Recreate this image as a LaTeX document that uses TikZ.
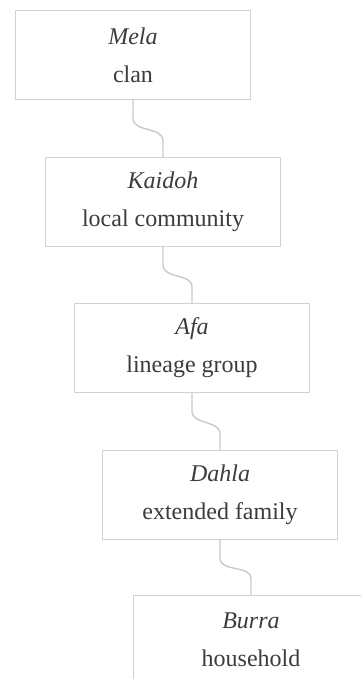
\documentclass[tikz,border=0pt]{standalone}
\usepackage{fontspec}
\setmainfont{Liberation Serif}
\begin{document}
\begin{tikzpicture}[x=1pt,y=-1pt,
  box/.style={draw=boxgray, line width=1pt, anchor=north west, minimum width=235pt, minimum height=89pt,
    align=center, text=textgray, font=\fontsize{24}{38}\selectfont, inner sep=0pt},
  link/.style={draw=linkgray, line width=1.4pt}]
\definecolor{boxgray}{HTML}{D2D2D2}
\definecolor{linkgray}{HTML}{CACACA}
\definecolor{textgray}{HTML}{3C3C3C}
\clip (0,0) rectangle (361,679);
\fill[white] (0,0) rectangle (361,679);
\node[box] (mela) at (15,10) {\textit{Mela}\\clan};
\node[box] (kaidoh) at (45,157) {\textit{Kaidoh}\\local community};
\node[box] (afa) at (74,303) {\textit{Afa}\\lineage group};
\node[box] (dahla) at (102,450) {\textit{Dahla}\\extended family};
\node[box] (burra) at (133,595) {\textit{Burra}\\household};
\foreach \a/\b in {mela/kaidoh, kaidoh/afa, afa/dahla, dahla/burra}{
  \draw[link] (\a.south) -- ([yshift=-18pt]\a.south) to[out=-90,in=90] ([yshift=16pt]\b.north) -- (\b.north);
}
\end{tikzpicture}
\end{document}
